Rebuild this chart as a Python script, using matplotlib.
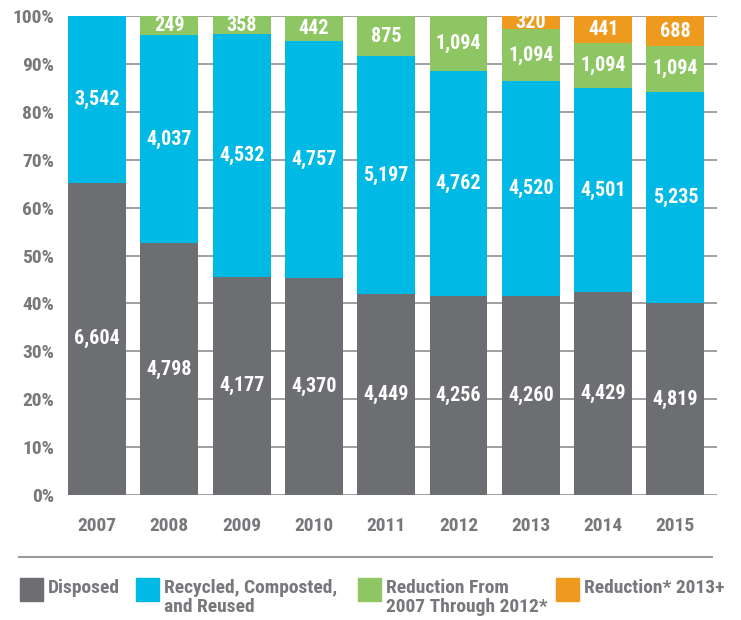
import matplotlib
matplotlib.use("Agg")
import matplotlib.pyplot as plt
from matplotlib.patches import Rectangle
from matplotlib.lines import Line2D
import numpy as np

years = ["2007", "2008", "2009", "2010", "2011", "2012", "2013", "2014", "2015"]

# labelled amounts
disposed = [6604, 4798, 4177, 4370, 4449, 4256, 4260, 4429, 4819]
recycled = [3542, 4037, 4532, 4757, 5197, 4762, 4520, 4501, 5235]
reduction_07_12 = [0, 249, 358, 442, 875, 1094, 1094, 1094, 1094]
reduction_13 = [0, 0, 0, 0, 0, 0, 320, 441, 688]

# share of each bar (%)
disposed_pct = [65.2, 52.6, 45.6, 45.4, 42.0, 41.6, 41.6, 42.4, 40.1]
recycled_pct = [34.8, 43.4, 50.6, 49.4, 49.6, 47.0, 44.8, 42.5, 44.1]
reduction_07_12_pct = [0.0, 4.0, 3.8, 5.2, 8.4, 11.4, 10.8, 9.5, 9.5]
reduction_13_pct = [0.0, 0.0, 0.0, 0.0, 0.0, 0.0, 2.8, 5.6, 6.3]

series = [disposed, recycled, reduction_07_12, reduction_13]
shares = [disposed_pct, recycled_pct, reduction_07_12_pct, reduction_13_pct]
labels = ["Disposed", "Recycled, Composted,\nand Reused",
          "Reduction From\n2007 Through 2012*", "Reduction* 2013+"]
colors = ["#6d6e71", "#00b9e4", "#8dc663", "#ee9a1e"]
GREY = "#77787b"

plt.rcParams["font.family"] = ["Roboto Condensed", "Liberation Sans Narrow",
                               "Liberation Sans", "DejaVu Sans"]

fig = plt.figure(figsize=(7.41, 6.2), dpi=100)
ax = fig.add_axes([0.092, 0.2016, 0.876, 0.7726])

x = np.arange(len(years))
bottom = np.zeros(len(years))
for vals, p, c in zip(series, shares, colors):
    p = np.array(p)
    ax.bar(x, p, bottom=bottom, width=0.8, color=c, zorder=3)
    for i, v in enumerate(vals):
        if v > 0:
            ax.text(x[i], bottom[i] + p[i] / 2, f"{v:,}", ha="center", va="center",
                    color="white", fontsize=14.5, fontweight="bold", zorder=4)
    bottom += p

ax.set_xlim(-0.4, 8.58)
ax.set_ylim(0, 100)
ax.set_yticks(range(0, 101, 10))
ax.set_yticklabels([f"{t}%" for t in range(0, 101, 10)])
ax.set_xticks(x)
ax.set_xticklabels(years)
ax.yaxis.grid(True, color="#999999", linewidth=1.3, zorder=0)
ax.tick_params(length=0, labelsize=14, labelcolor=GREY)
ax.tick_params(axis="x", pad=16)
ax.tick_params(axis="y", pad=10)
for lab in ax.get_xticklabels() + ax.get_yticklabels():
    lab.set_fontweight("bold")
for s in ax.spines.values():
    s.set_visible(False)

# separator line
fig.add_artist(Line2D([19 / 741, 712 / 741], [1 - 557 / 620] * 2,
                      color="#9a9a9a", linewidth=1.5))

# legend
box_x = [20, 136, 358, 556]
for bx, lab, c in zip(box_x, labels, colors):
    fig.add_artist(Rectangle((bx / 741, 1 - 601 / 620), 23 / 741, 23 / 620,
                             color=c, transform=fig.transFigure))
    fig.text((bx + 28) / 741, 1 - 579 / 620, lab, ha="left", va="top",
             fontsize=14, fontweight="bold", color=GREY, linespacing=1.05)

fig.savefig("out.png", dpi=100)
